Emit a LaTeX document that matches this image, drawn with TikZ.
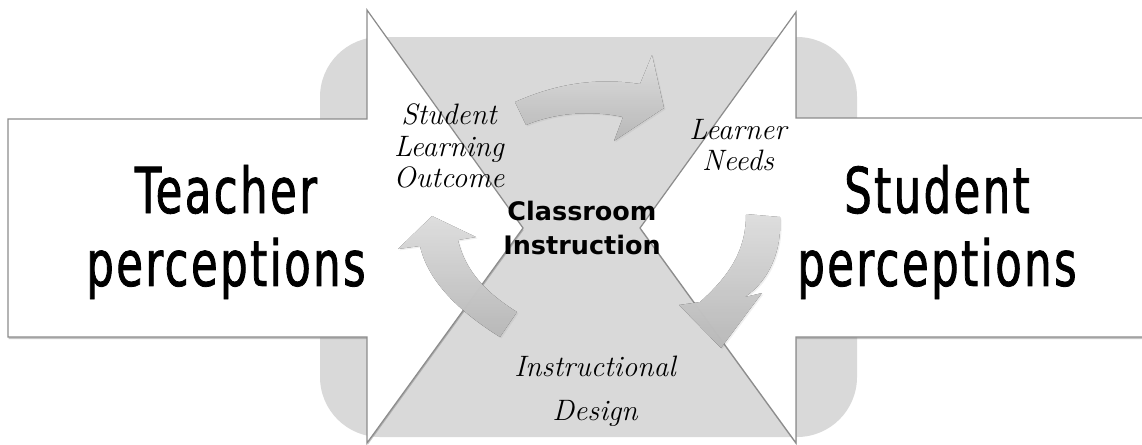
\documentclass[tikz,border=0pt]{standalone}
\usepackage{fontspec}
\newfontfamily\sidefont{DejaVu Sans Condensed}[FakeStretch=0.76, FakeBold=1.3, LetterSpace=4]
\newfontfamily\hubfont{DejaVu Sans Bold}
\usetikzlibrary{shadows}

\definecolor{backgray}{HTML}{D9D9D9}
\definecolor{edgegray}{HTML}{8C8C8C}

\tikzset{
  bigarrow/.style={fill=white, draw=edgegray, line width=0.7pt,
    drop shadow={shadow xshift=0.3pt, shadow yshift=-1.2pt, opacity=0.45}},
  cyclearrow/.style={top color=white, bottom color=black!17, fill opacity=0.85,
    drop shadow={shadow xshift=0.8pt, shadow yshift=-0.8pt, opacity=0.12}},
  sidelabel/.style={font=\sidefont\fontsize{36}{41.5}\selectfont, align=center},
  steplabel/.style={font=\fontsize{16.8}{18}\selectfont\itshape, align=center}
}

\begin{document}
\begin{tikzpicture}[x=0.02cm, y=-0.02cm]
\clip (0,0) rectangle (1142,444);
\fill[backgray, rounded corners=1.2cm] (320,37) rectangle (857,437);

% the two perception arrows
\draw[bigarrow] (8,119) -- (367,119) -- (367,10) -- (523,228) -- (367,443) -- (367,337) -- (8,337) -- cycle;
\draw[bigarrow] (1160,118) -- (796,118) -- (796,12) -- (640,228) -- (796,443) -- (796,337) -- (1160,337) -- cycle;

% cycle around the classroom
\fill[cyclearrow] (515,102) .. controls (560,82) and (600,78) .. (640,84) -- (652,55) -- (664,108) -- (614,141) -- (623,117) .. controls (590,110) and (555,113) .. (526,125) -- cycle;
\fill[cyclearrow] (746,214) -- (780,217) .. controls (782,250) and (770,280) .. (745,297) -- (762,293) -- (721,348) -- (679,305) -- (700,302) .. controls (730,275) and (746,250) .. (746,214) -- cycle;
\fill[cyclearrow] (517,312) -- (500,337) .. controls (460,312) and (428,282) .. (420,246) -- (398,249) -- (432,216) -- (476,237) -- (458,240) .. controls (465,270) and (485,292) .. (517,312) -- cycle;

\node[sidelabel] (teacher) at (226,232) {Teacher\\perceptions};
\node[sidelabel] (student) at (937,232) {Student\\perceptions};
\node[font=\hubfont\fontsize{14.5}{18.8}\selectfont, align=center] (hub) at (582,228) {Classroom\\Instruction};
\node[steplabel] (outcome) at (449,146) {Student\\Learning\\Outcome};
\node[steplabel] (needs) at (738,145) {Learner\\Needs};
\node[steplabel, font=\fontsize{16.8}{25}\selectfont\itshape] (design) at (595,391) {Instructional\\Design};
\end{tikzpicture}
\end{document}
